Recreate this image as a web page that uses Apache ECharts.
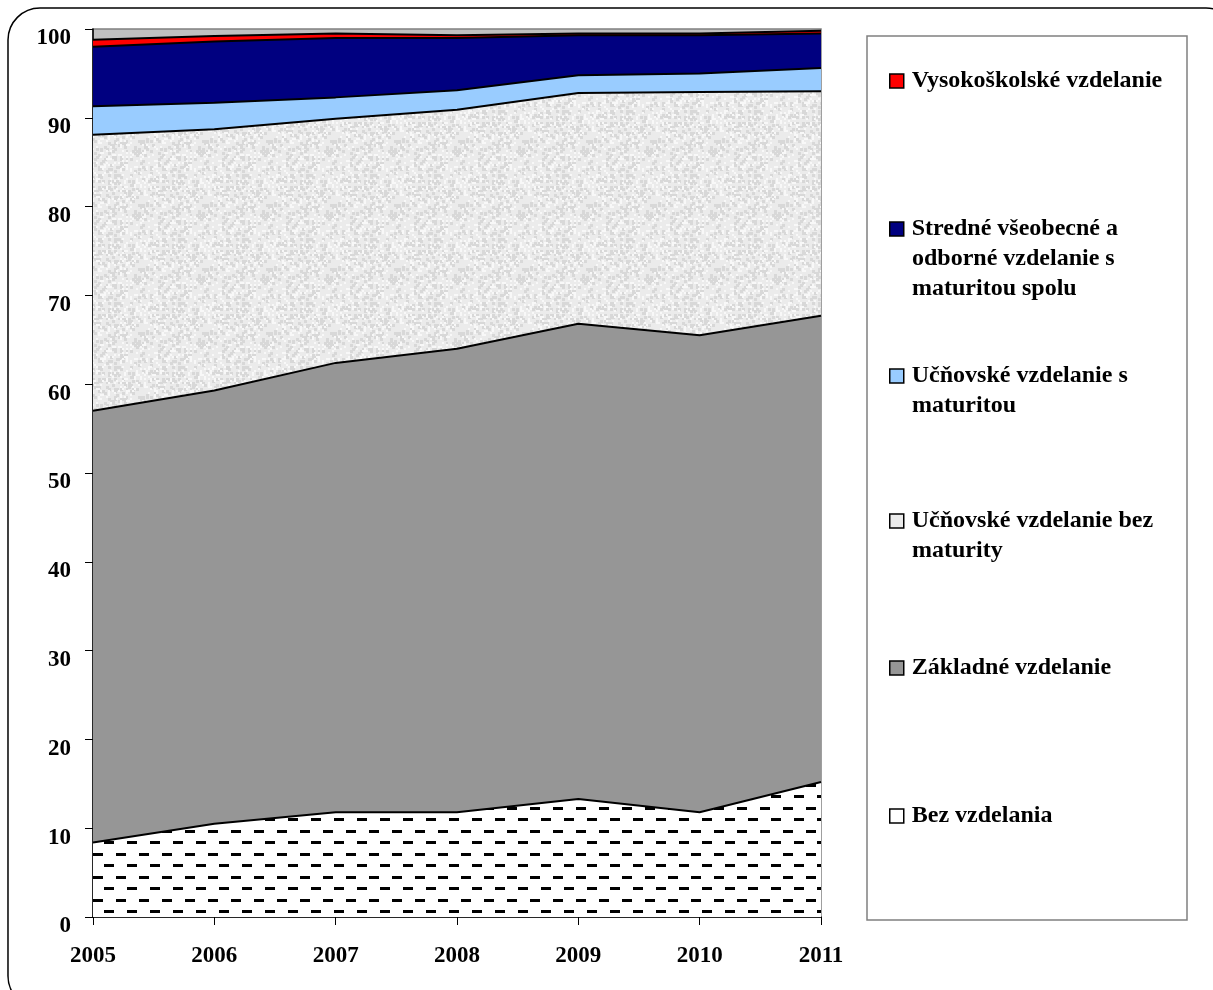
<!DOCTYPE html>
<html>
<head>
<meta charset="utf-8">
<script src="https://cdn.jsdelivr.net/npm/echarts@6/dist/echarts.min.js"></script>
<style>
  html, body { margin:0; padding:0; background:#fff; }
  #main { width:1213px; height:990px; }
</style>
</head>
<body>
<div id="main"></div>
<script>
// roky
var years = ['2005', '2006', '2007', '2008', '2009', '2010', '2011'];
// podiely v % (odčítané z grafu)
var bezVzdelania = [8.4, 10.5, 11.8, 11.8, 13.3, 11.8, 15.2];
var zakladne = [48.6, 48.8, 50.6, 52.2, 53.5, 53.7, 52.5];
var ucnovskeBez = [31.1, 29.4, 27.5, 26.9, 26.0, 27.4, 25.3];
var ucnovskeS = [3.2, 3.0, 2.4, 2.2, 2.0, 2.1, 2.6];
var stredne = [6.7, 6.9, 6.7, 5.9, 4.5, 4.3, 3.9];
var vysokoskolske = [0.8, 0.6, 0.5, 0.3, 0.2, 0.2, 0.3];
var yTicks = [0, 10, 20, 30, 40, 50, 60, 70, 80, 90, 100];

var FONT = '"Liberation Serif", "Times New Roman", serif';
var LEGEND_SIZE = 24;

// vzor s čiarkami pre "Bez vzdelania"
function dashPattern() {
  var c = document.createElement('canvas');
  c.width = 23; c.height = 23;
  var ctx = c.getContext('2d');
  ctx.fillStyle = '#ffffff';
  ctx.fillRect(0, 0, 23, 23);
  ctx.fillStyle = '#000000';
  ctx.fillRect(1, 2, 10, 3);
  ctx.fillRect(12, 13, 10, 3);
  return c;
}
// jemná sivá textúra pre "Učňovské vzdelanie bez maturity"
function speckPattern() {
  var n = 64;
  var c = document.createElement('canvas');
  c.width = n; c.height = n;
  var ctx = c.getContext('2d');
  ctx.fillStyle = '#ebebeb';
  ctx.fillRect(0, 0, n, n);
  for (var y = 0; y < n; y += 2) {
    for (var x = 0; x < n; x += 2) {
      var h = Math.sin(x * 12.9898 + y * 78.233) * 43758.5453;
      h = h - Math.floor(h);
      if (h < 0.2) { ctx.fillStyle = '#d8d8d8'; ctx.fillRect(x, y, 3, 3); }
      else if (h > 0.82) { ctx.fillStyle = '#f8f8f8'; ctx.fillRect(x, y, 2, 2); }
    }
  }
  return c;
}

var names = [
  'Bez vzdelania',
  'Základné vzdelanie',
  'Učňovské vzdelanie bez maturity',
  'Učňovské vzdelanie s maturitou',
  'Stredné všeobecné a odborné vzdelanie s maturitou spolu',
  'Vysokoškolské vzdelanie'
];
// riadky textu v legende
var legendLines = [
  ['Bez vzdelania'],
  ['Základné vzdelanie'],
  ['Učňovské vzdelanie bez', 'maturity'],
  ['Učňovské vzdelanie s', 'maturitou'],
  ['Stredné všeobecné a', 'odborné vzdelanie s', 'maturitou spolu'],
  ['Vysokoškolské vzdelanie']
];
var dataList = [bezVzdelania, zakladne, ucnovskeBez, ucnovskeS, stredne, vysokoskolske];
var fills = [
  {image: dashPattern(), repeat: 'repeat'},
  '#969696',
  {image: speckPattern(), repeat: 'repeat'},
  '#99ccff',
  '#000080',
  '#ff0000'
];
var legendColors = ['#ffffff', '#969696', '#ebebeb', '#99ccff', '#000080', '#ff0000'];
// stred prvého riadku každej položky legendy
var legendCenters = [816, 668, 521, 376, 229, 81];

var series = [];
for (var i = 0; i < names.length; i++) {
  series.push({
    name: names[i],
    type: 'line',
    stack: 'total',
    symbol: 'none',
    data: dataList[i],
    itemStyle: {color: legendColors[i], borderColor: '#000', borderWidth: 1.5},
    lineStyle: {color: '#000', width: 2},
    areaStyle: {color: fills[i], opacity: 1},
    emphasis: {disabled: true}
  });
}

var legends = [];
var extraText = [];
for (var j = 0; j < names.length; j++) {
  legends.push({
    data: [names[j]],
    left: 884,
    top: legendCenters[j] - 20,
    icon: 'rect',
    itemWidth: 14,
    itemHeight: 14,
    itemGap: 0,
    selectedMode: false,
    itemStyle: {color: legendColors[j], borderColor: '#000', borderWidth: 1.5},
    formatter: (function (first) { return function () { return first; }; })(legendLines[j][0]),
    textStyle: {
      fontFamily: FONT, fontWeight: 'bold', fontSize: LEGEND_SIZE, color: '#000',
      lineHeight: 30, padding: [0, 0, 0, 3]
    }
  });
  for (var k = 1; k < legendLines[j].length; k++) {
    extraText.push({
      type: 'text', silent: true,
      x: 912, y: legendCenters[j] + 30 * k,
      style: {
        text: legendLines[j][k], fill: '#000',
        font: 'bold ' + LEGEND_SIZE + 'px ' + FONT,
        verticalAlign: 'middle', align: 'left'
      }
    });
  }
}

var chart = echarts.init(document.getElementById('main'));
var option = {
  backgroundColor: '#ffffff',
  animation: false,
  graphic: [
    {
      type: 'rect', z: -10, silent: true,
      shape: {x: 8, y: 8, width: 1230, height: 1000, r: 32},
      style: {fill: 'none', stroke: '#000', lineWidth: 1.5}
    },
    {
      type: 'rect', silent: true,
      shape: {x: 867, y: 36, width: 320, height: 884},
      style: {fill: '#fff', stroke: '#808080', lineWidth: 1.5},
      z: -5
    }
  ].concat(extraText),
  legend: legends,
  grid: {
    left: 93, right: 392, top: 29, bottom: 73,
    show: true, backgroundColor: '#c0c0c0', borderColor: '#808080', borderWidth: 1.5
  },
  xAxis: {
    type: 'category',
    data: years,
    boundaryGap: false,
    axisLine: {lineStyle: {color: '#000', width: 1.5}},
    axisTick: {show: true, length: 8, lineStyle: {color: '#000'}},
    axisLabel: {
      fontFamily: FONT, fontWeight: 'bold', fontSize: 23, color: '#000', margin: 28
    },
    splitLine: {show: false}
  },
  yAxis: {
    type: 'value',
    min: yTicks[0],
    max: yTicks[yTicks.length - 1],
    interval: 10,
    axisLine: {show: true, lineStyle: {color: '#000', width: 1.5}},
    axisTick: {show: true, length: 8, lineStyle: {color: '#000'}},
    axisLabel: {
      fontFamily: FONT, fontWeight: 'bold', fontSize: 23, color: '#000', margin: 22,
      verticalAlign: 'top', lineHeight: 19
    },
    splitLine: {show: false}
  },
  series: series
};
chart.setOption(option);
</script>
</body>
</html>
